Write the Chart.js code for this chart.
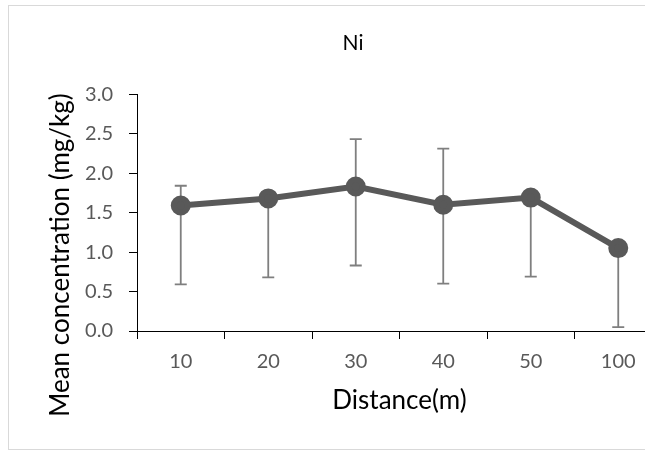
<!DOCTYPE html>
<html>
<head>
<meta charset="utf-8">
<script src="https://cdn.jsdelivr.net/npm/chart.js@4/dist/chart.umd.min.js"></script>
<style>
html,body{margin:0;padding:0;background:#fff;overflow:hidden;width:645px;height:451px;}
#frame{position:absolute;left:8px;top:5px;width:720px;height:443px;border:1px solid #d9d9d9;}
#wrap{position:absolute;left:0;top:0;width:698px;height:451px;}
</style>
</head>
<body>
<div id="frame"></div>
<div id="wrap"><canvas id="c" width="698" height="451"></canvas></div>
<script>
const categories = ['10','20','30','40','50','100'];
const meanValues = [1.59, 1.68, 1.83, 1.60, 1.69, 1.05];
const errorPlus = [0.25, 0, 0.60, 0.71, 0, 0];
const errorMinus = [1.0, 1.0, 1.0, 1.0, 1.0, 1.0];
const yTicks = [0, 0.5, 1.0, 1.5, 2.0, 2.5, 3.0];
const yAxisTitle = 'Mean concentration (mg/kg)';
const xAxisTitle = 'Distance(m)';
const chartTitle = 'Ni';

const FONT = 'Lato, "Open Sans", sans-serif';

const errorBars = {
  id: 'errorBars',
  beforeDatasetsDraw(chart) {
    const ctx = chart.ctx;
    const xs = chart.scales.x, ys = chart.scales.y;
    ctx.save();
    ctx.strokeStyle = '#7f7f7f';
    ctx.lineWidth = 1.8;
    meanValues.forEach((v, i) => {
      const x = xs.getPixelForValue(i);
      const yT = ys.getPixelForValue(v + errorPlus[i]);
      const yB = ys.getPixelForValue(v - errorMinus[i]);
      ctx.beginPath();
      ctx.moveTo(x, yT); ctx.lineTo(x, yB);
      if (errorPlus[i] > 0) { ctx.moveTo(x - 6, yT); ctx.lineTo(x + 6, yT); }
      if (errorMinus[i] > 0) { ctx.moveTo(x - 6, yB); ctx.lineTo(x + 6, yB); }
      ctx.stroke();
    });
    ctx.restore();
  }
};

// Y-axis title placed like the reference (shifted below the plot centre)
const yTitlePlugin = {
  id: 'yTitle',
  afterDraw(chart) {
    const ctx = chart.ctx;
    ctx.save();
    ctx.translate(61, 255);
    ctx.rotate(-Math.PI / 2);
    ctx.font = '26px ' + FONT;
    ctx.fillStyle = '#000';
    ctx.textAlign = 'center';
    ctx.textBaseline = 'middle';
    ctx.fillText(yAxisTitle, 0, 0);
    ctx.restore();
  }
};

new Chart(document.getElementById('c'), {
  type: 'line',
  data: {
    labels: categories,
    datasets: [{
      data: meanValues,
      borderColor: '#595959',
      backgroundColor: '#595959',
      borderWidth: 6,
      pointRadius: 7,
      pointBackgroundColor: '#595959',
      pointBorderColor: '#595959',
      tension: 0
    }]
  },
  options: {
    responsive: false,
    animation: false,
    layout: { padding: { left: 44, right: 36, top: 0, bottom: 35 } },
    plugins: {
      legend: { display: false },
      tooltip: { enabled: false },
      title: {
        display: true,
        text: chartTitle,
        color: '#000',
        font: { family: FONT, size: 21, weight: 'normal' },
        padding: { top: 31, bottom: 38 }
      }
    },
    scales: {
      x: {
        type: 'category',
        offset: true,
        grid: { display: true, drawOnChartArea: false, drawTicks: true, tickLength: 8, color: '#000', offset: true },
        border: { display: true, color: '#000', width: 1 },
        ticks: { color: '#595959', font: { family: FONT, size: 20 }, padding: 11, maxRotation: 0 },
        title: { display: true, text: xAxisTitle, color: '#000', font: { family: FONT, size: 26 }, padding: { top: 10, bottom: 0 } },
        afterFit(s) { s.height = 85; }
      },
      y: {
        min: 0, max: 3,
        afterBuildTicks(s) { s.ticks = yTicks.map(v => ({ value: v })); },
        grid: { display: true, drawOnChartArea: false, drawTicks: true, tickLength: 8, color: '#000' },
        border: { display: true, color: '#000', width: 1 },
        ticks: { color: '#595959', font: { family: FONT, size: 20 }, padding: 16, callback: v => Number(v).toFixed(1) },
        title: { display: false },
        afterFit(s) { s.width = 93; }
      }
    }
  },
  plugins: [errorBars, yTitlePlugin]
});
</script>
</body>
</html>
